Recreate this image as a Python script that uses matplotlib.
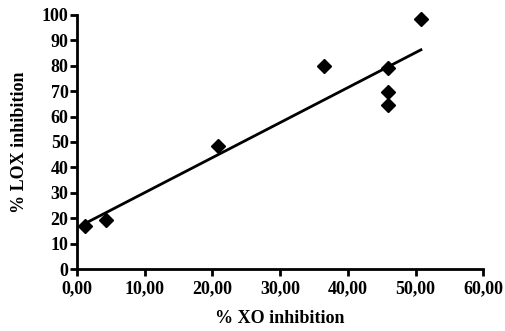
import numpy as np
import matplotlib
matplotlib.use("Agg")
import matplotlib.pyplot as plt

# data
xo = [1.2, 4.3, 20.8, 36.5, 45.9, 45.9, 45.9, 50.8]
lox = [17.0, 19.5, 48.5, 80.0, 79.0, 69.5, 64.5, 98.5]
xticks = [0, 10, 20, 30, 40, 50, 60]
yticks = [0, 10, 20, 30, 40, 50, 60, 70, 80, 90, 100]

plt.rcParams['font.family'] = 'Liberation Serif'
plt.rcParams['font.weight'] = 'bold'

fig = plt.figure(figsize=(5.06, 3.31), dpi=100)
ax = fig.add_axes([0.152, 0.187, 0.803, 0.768])

# linear regression line
k, b = np.polyfit(xo, lox, 1)
xl = np.array([min(xo), max(xo)])
ax.plot(xl, k*xl + b, color='black', lw=2)
ax.plot(xo, lox, 'D', color='black', ms=7.5, clip_on=False)

ax.set_xlim(0, 60)
ax.set_ylim(0, 100)
ax.set_xticks(xticks)
ax.set_xticklabels(["%d,00" % v for v in xticks])
ax.set_yticks(yticks)
for s in ['top', 'right']:
    ax.spines[s].set_visible(False)
for s in ['left', 'bottom']:
    ax.spines[s].set_linewidth(2)
ax.tick_params(direction='out', length=5, width=2, labelsize=13, pad=1)
ax.tick_params(axis='x', pad=3)
ax.set_xlabel("% XO inhibition", fontsize=13, fontweight='bold', labelpad=9)
ax.set_ylabel("% LOX inhibition", fontsize=13, fontweight='bold', labelpad=10)

fig.savefig("out.png", dpi=100)
